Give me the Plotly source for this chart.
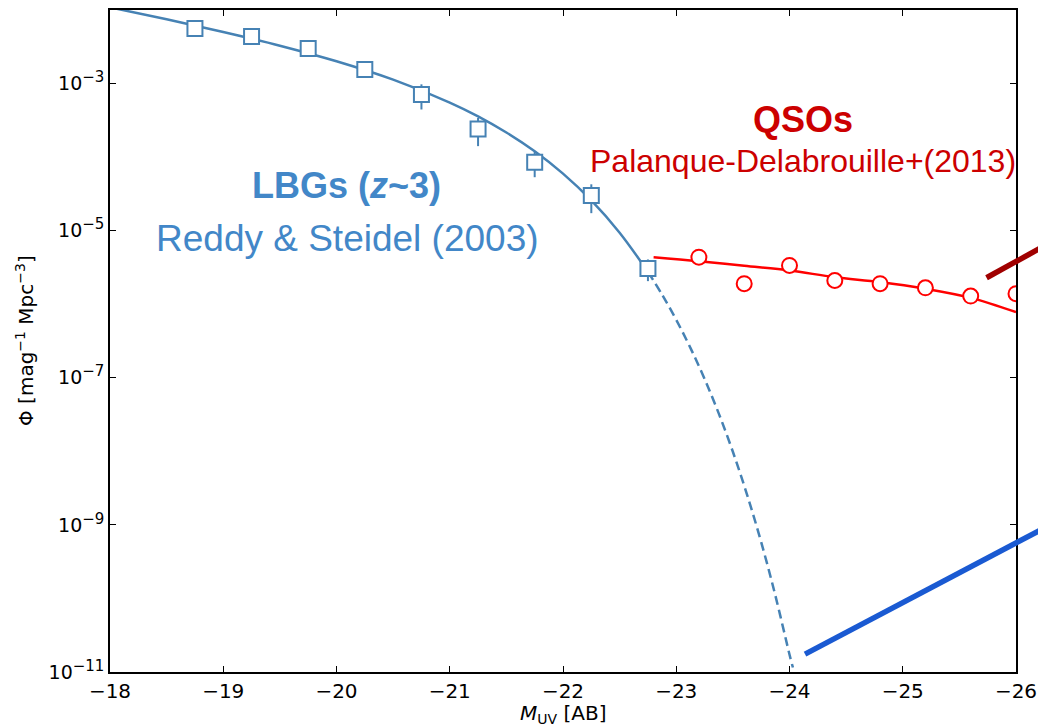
import plotly.graph_objects as go

# Lyman-break galaxies at z~3 (Reddy & Steidel 2003): binned luminosity function
lbg_mag = [-18.75, -19.25, -19.75, -20.25, -20.75, -21.25, -21.75, -22.25, -22.75]
lbg_phi = [5.6e-3, 4.35e-3, 3.0e-3, 1.55e-3, 7.1e-4, 2.41e-4, 8.53e-5, 3.0e-5, 3.06e-6]
lbg_err = [2.0e-4, 2.0e-4, 1.5e-4, 1.0e-4, 2.66e-4, 1.0e-4, 3.2e-5, 1.27e-5, 1.0e-6]

# Schechter fit, sampled: solid over the data range, dashed extrapolation beyond
lbg_fit_mag = [-18.0, -18.5, -19.0, -19.5, -20.0, -20.5, -21.0, -21.25, -21.5,
               -21.75, -22.0, -22.25, -22.5, -22.75]
lbg_fit_phi = [1.087e-2, 7.48e-3, 5.03e-3, 3.27e-3, 2.008e-3, 1.129e-3, 5.52e-4,
               3.58e-4, 2.16e-4, 1.199e-4, 5.96e-5, 2.58e-5, 9.39e-6, 2.75e-6]
lbg_ext_mag = [-22.75, -22.875, -23.0, -23.125, -23.25, -23.375, -23.5, -23.625,
               -23.75, -23.875, -24.0, -24.03]
lbg_ext_phi = [2.75e-6, 1.35e-6, 6.13e-7, 2.55e-7, 9.66e-8, 3.28e-8, 9.86e-9,
               2.58e-9, 5.83e-10, 1.10e-10, 1.73e-11, 1.15e-11]

# Quasars (Palanque-Delabrouille et al. 2013)
qso_mag = [-23.2, -23.6, -24.0, -24.4, -24.8, -25.2, -25.6, -26.0]
qso_phi = [4.36e-6, 1.9e-6, 3.37e-6, 2.1e-6, 1.9e-6, 1.67e-6, 1.29e-6, 1.39e-6]
qso_fit_mag = [-22.8, -23.2, -23.6, -24.0, -24.4, -24.8, -25.2, -25.6, -26.0]
qso_fit_phi = [4.36e-6, 3.85e-6, 3.33e-6, 2.88e-6, 2.33e-6, 2.0e-6, 1.62e-6, 1.22e-6, 7.8e-7]

# Additional bright-end segments
darkred_mag = [-25.74, -26.5]
darkred_phi = [2.29e-6, 1.01e-5]
blue_mag = [-24.137, -26.5]
blue_phi = [1.75e-11, 1.445e-9]

x_ticks = [-18, -19, -20, -21, -22, -23, -24, -25, -26]
x_ticktext = ["\u221218", "\u221219", "\u221220", "\u221221", "\u221222",
              "\u221223", "\u221224", "\u221225", "\u221226"]
y_ticks = [1e-11, 1e-9, 1e-7, 1e-5, 1e-3]
y_exponents = ["\u221211", "\u22129", "\u22127", "\u22125", "\u22123"]
y_ticktext = ["10<sup><span style='font-size:15px'>%s</span></sup>" % e
              for e in y_exponents]

LBG_COLOR = "#4682b4"
LBG_TEXT = "#4287c8"
QSO_COLOR = "#ff0000"
QSO_TEXT = "#cc0000"

W, H = 1038, 726
ML, MR, MT, MB = 110, 0, 10, 54
axes_right_px = 1016
x_left, x_right = -18.0, -26.0
plot_w = W - ML - MR
plot_h = H - MT - MB
main_frac = (axes_right_px - ML) / plot_w
# the overlay subplot spans the full width with the same magnitude scale
x2_right = x_left + (x_right - x_left) / main_frac

fig = go.Figure()

fig.add_trace(go.Scatter(
    x=lbg_fit_mag, y=lbg_fit_phi, mode="lines", line_shape="spline",
    line=dict(color=LBG_COLOR, width=2.5), hoverinfo="skip", showlegend=False))
fig.add_trace(go.Scatter(
    x=lbg_ext_mag, y=lbg_ext_phi, mode="lines", line_shape="spline",
    line=dict(color=LBG_COLOR, width=2.5, dash="9px,5px"), hoverinfo="skip",
    showlegend=False))
fig.add_trace(go.Scatter(
    x=lbg_mag, y=lbg_phi, mode="markers",
    error_y=dict(type="data", array=lbg_err, color=LBG_COLOR, thickness=2, width=0),
    marker=dict(symbol="square", size=15, color="white",
                line=dict(color=LBG_COLOR, width=2)),
    showlegend=False))

fig.add_trace(go.Scatter(
    x=qso_fit_mag, y=qso_fit_phi, mode="lines", line_shape="spline",
    line=dict(color=QSO_COLOR, width=2.5), hoverinfo="skip", showlegend=False))
fig.add_trace(go.Scatter(
    x=qso_mag, y=qso_phi, mode="markers",
    marker=dict(symbol="circle", size=15, color="white",
                line=dict(color=QSO_COLOR, width=2)),
    showlegend=False))

# segments extending past the right spine live on an overlay subplot
fig.add_trace(go.Scatter(
    x=darkred_mag, y=darkred_phi, mode="lines", xaxis="x2", yaxis="y2",
    line=dict(color="#a00000", width=5.5), hoverinfo="skip", showlegend=False))
fig.add_trace(go.Scatter(
    x=blue_mag, y=blue_phi, mode="lines", xaxis="x2", yaxis="y2",
    line=dict(color="#1a5ad2", width=5.5), hoverinfo="skip", showlegend=False))

TEXT_FONT = "Liberation Sans, Arial, sans-serif"
fig.add_annotation(x=-20.088, y=-4.38, xref="x", yref="y",
                   text="<b>LBGs (<i>z</i>~3)</b>", showarrow=False,
                   font=dict(family=TEXT_FONT, size=36, color=LBG_TEXT))
fig.add_annotation(x=-20.093, y=-5.11, xref="x", yref="y",
                   text="Reddy &amp; Steidel (2003)", showarrow=False,
                   font=dict(family=TEXT_FONT, size=37, color=LBG_TEXT))
fig.add_annotation(x=-24.12, y=-3.49, xref="x", yref="y",
                   text="<b>QSOs</b>", showarrow=False,
                   font=dict(family=TEXT_FONT, size=36, color=QSO_TEXT))
fig.add_annotation(x=-24.12, y=-4.05, xref="x", yref="y",
                   text="Palanque-Delabrouille+(2013)", showarrow=False,
                   font=dict(family=TEXT_FONT, size=32, color=QSO_TEXT))

# axis titles
TITLE_FONT = dict(family="DejaVu Sans", size=20, color="black")
fig.add_annotation(x=((ML + axes_right_px) / 2 - ML) / plot_w, y=-42 / plot_h,
                   xref="paper", yref="paper", xanchor="center", yanchor="middle",
                   showarrow=False, text="<i>M</i><sub>UV</sub> [AB]",
                   font=TITLE_FONT)
fig.add_annotation(x=-85 / plot_w, y=0.5, xref="paper", yref="paper",
                   xanchor="center", yanchor="middle",
                   showarrow=False, textangle=-90,
                   text="\u03a6 [mag<sup>\u22121</sup> Mpc<sup>\u22123</sup>]",
                   font=TITLE_FONT)

fig.update_layout(
    width=W, height=H,
    margin=dict(l=ML, r=MR, t=MT, b=MB, pad=0, autoexpand=False),
    paper_bgcolor="white", plot_bgcolor="rgba(0,0,0,0)",
    showlegend=False,
    xaxis=dict(
        domain=[0, main_frac], range=[x_left, x_right], anchor="y",
        tickvals=x_ticks, ticktext=x_ticktext,
        tickfont=dict(family="DejaVu Sans", size=20, color="black"),
        ticks="inside", ticklen=6, tickwidth=1.2, tickcolor="black",
        showline=True, linecolor="black", linewidth=1.6, mirror="ticks",
        showgrid=False, zeroline=False, automargin=False,
    ),
    yaxis=dict(
        type="log", range=[-11, -2], anchor="x",
        tickvals=y_ticks, ticktext=y_ticktext,
        tickfont=dict(family="DejaVu Sans", size=19, color="black"),
        ticks="inside", ticklen=6, tickwidth=1.2, tickcolor="black",
        showline=True, linecolor="black", linewidth=1.6, mirror="ticks",
        showgrid=False, zeroline=False, automargin=False,
    ),
    xaxis2=dict(domain=[0, 1], range=[x_left, x2_right], anchor="y2",
                visible=False, showgrid=False, zeroline=False, automargin=False),
    yaxis2=dict(type="log", range=[-11, -2], anchor="x2", domain=[0, 1],
                visible=False, showgrid=False, zeroline=False, automargin=False),
)

fig.write_html("out.html")
